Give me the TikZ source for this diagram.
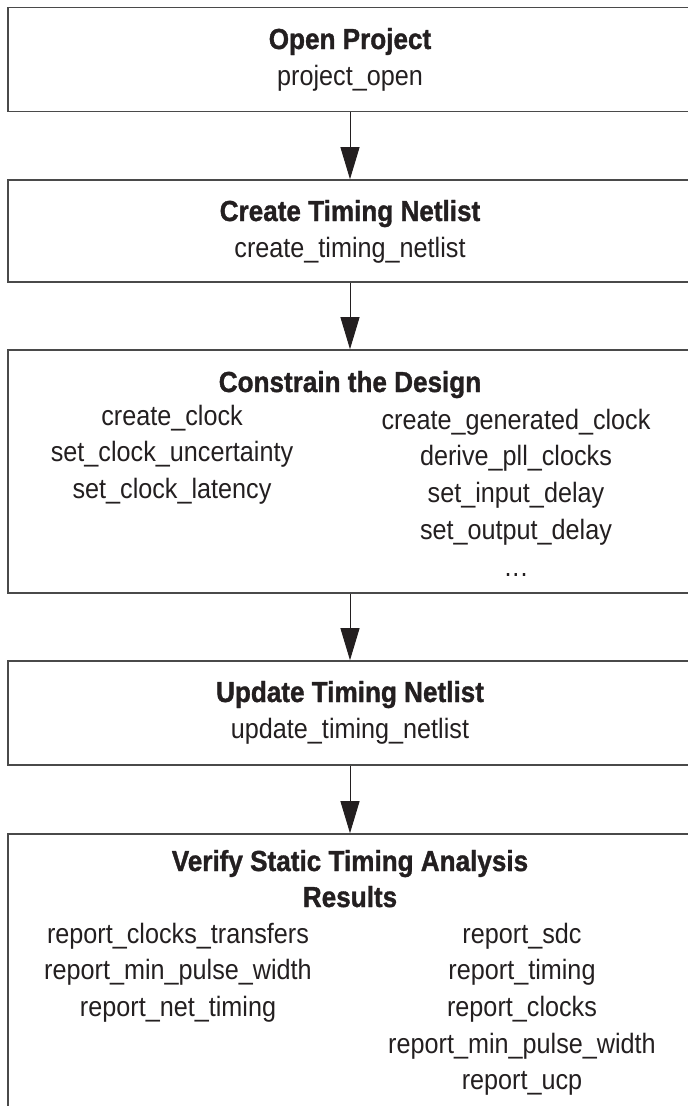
\documentclass[tikz,border=0pt]{standalone}
\usepackage{fontspec}
\setmainfont[FakeStretch=0.9]{Liberation Sans}
\newfontfamily\headfont[FakeStretch=0.9,FakeBold=1.2]{Liberation Sans}
\usetikzlibrary{arrows.meta}
\definecolor{inkgray}{HTML}{231F20}
\definecolor{framegray}{HTML}{4A4A4A}
\tikzset{
  stagebox/.style={draw=framegray,line width=1.6pt,rectangle,minimum width=684pt,inner sep=0pt},
  stagetitle/.style={anchor=base,inner sep=0pt,text=inkgray,font=\headfont\bfseries\fontsize{29}{34}\selectfont},
  cmdtext/.style={anchor=base,inner sep=0pt,text=inkgray,font=\fontsize{28}{34}\selectfont},
  flowarrow/.style={draw=inkgray,line width=1pt,-{Triangle[length=32pt,width=19pt]}}
}

\begin{document}
\begin{tikzpicture}[x=1pt,y=-1pt]
          \useasboundingbox (0,0) rectangle (688,1106);
          % the five stages
          \node (open) at (350,59.5) [stagebox,minimum height=104pt] {};
          \node (create) at (350,231) [stagebox,minimum height=102pt] {};
          \node (constrain) at (350,471.5) [stagebox,minimum height=243pt] {};
          \node (update) at (350,713) [stagebox,minimum height=104pt] {};
          \node (verify) at (350,977) [stagebox,minimum height=286pt] {};
          % flow
          \draw[flowarrow] (open) -- (create);
          \draw[flowarrow] (create) -- (constrain);
          \draw[flowarrow] (constrain) -- (update);
          \draw[flowarrow] (update) -- (verify);
          % titles
          \node (opentitle) at (350,49) [stagetitle] {Open Project};
          \node (opencmd) at (350,85) [cmdtext] {project\_open};
          \node (createtitle) at (350,221) [stagetitle] {Create Timing Netlist};
          \node (createcmd) at (350,257) [cmdtext] {create\_timing\_netlist};
          \node (constraintitle) at (350,392) [stagetitle] {Constrain the Design};
          \node (updatetitle) at (350,702) [stagetitle] {Update Timing Netlist};
          \node (updatecmd) at (350,738) [cmdtext] {update\_timing\_netlist};
          \node (verifytitle) at (350,871) [stagetitle] {Verify Static Timing Analysis};
          \node (verifytitleb) at (350,907) [stagetitle] {Results};
          % constraint commands
          \foreach \cmd [count=\n] in {create\_clock,set\_clock\_uncertainty,set\_clock\_latency}
          \node (conl\n) at (172,{425+36.8*(\n-1)}) [cmdtext] {\cmd};
          \foreach \cmd [count=\n] in {create\_generated\_clock,derive\_pll\_clocks,set\_input\_delay,set\_output\_delay}
          \node (conr\n) at (516,{429+36.8*(\n-1)}) [cmdtext] {\cmd};
          \node (conr5) at (516,576) [cmdtext] {.\kern1pt.\kern1pt.};
          % report commands
          \foreach \cmd [count=\n] in {report\_clocks\_transfers,report\_min\_pulse\_width,report\_net\_timing}
          \node (repl\n) at (178,{943+36.7*(\n-1)}) [cmdtext] {\cmd};
          \foreach \cmd [count=\n] in {report\_sdc,report\_timing,report\_clocks,report\_min\_pulse\_width,report\_ucp}
          \node (repr\n) at (522,{943+36.7*(\n-1)}) [cmdtext] {\cmd};
        \end{tikzpicture}
\end{document}
